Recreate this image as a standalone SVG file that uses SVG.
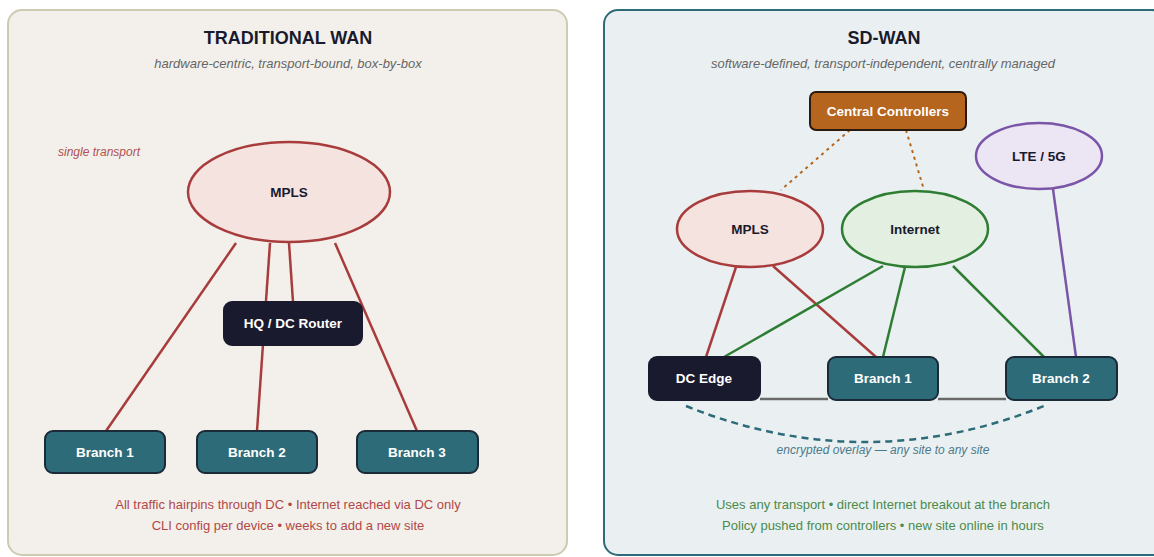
<svg xmlns="http://www.w3.org/2000/svg" width="1154" height="557" viewBox="0 0 1154 557">
<defs>
<style>
text{font-family:"Liberation Sans",Arial,sans-serif}
.title{font-size:18px;font-weight:bold;fill:#1a1a2e;text-anchor:middle}
.sub{font-size:13px;font-style:italic;fill:#666;text-anchor:middle}
.lbl{font-size:13.5px;font-weight:bold;fill:#fff;text-anchor:middle;dominant-baseline:central}
.elbl{font-size:13.5px;font-weight:bold;fill:#1a1a2e;text-anchor:middle;dominant-baseline:central}
.box{fill:#2d6b78;stroke:#1a2a38;stroke-width:2}
.dark{fill:#1a1a2e;stroke:#1a1a2e;stroke-width:2}
.red{stroke:#a83c3c;stroke-width:2.5;fill:none}
.green{stroke:#2e7d32;stroke-width:2.5;fill:none}
.foot{font-size:13px;text-anchor:middle}
</style>
</defs>
<rect x="0" y="0" width="1154" height="557" fill="#ffffff"/>
<!-- Left panel -->
<rect x="8" y="10" width="559" height="545" rx="14" fill="#f3f0eb" stroke="#cfcab2" stroke-width="2"/>
<text class="title" x="288" y="44">TRADITIONAL WAN</text>
<text class="sub" x="288" y="68">hardware-centric, transport-bound, box-by-box</text>
<text x="58" y="156" font-size="12" font-style="italic" fill="#b05050">single transport</text>
<!-- Right panel -->
<rect x="604" y="10" width="562" height="545" rx="14" fill="#eaf0f2" stroke="#2d6b78" stroke-width="2"/>
<text class="title" x="884" y="44">SD-WAN</text>
<text class="sub" x="883" y="68">software-defined, transport-independent, centrally managed</text>

<g id="connectors">
<line class="red" x1="236" y1="243" x2="106" y2="431"/>
<line class="red" x1="270" y1="243" x2="257" y2="431"/>
<line class="red" x1="289" y1="243" x2="293" y2="302"/>
<line class="red" x1="335" y1="243" x2="417" y2="431"/>
<line x1="850" y1="130" x2="781" y2="190" stroke="#b5651d" stroke-width="2" stroke-dasharray="3 4"/>
<line x1="906" y1="130" x2="924" y2="190" stroke="#b5651d" stroke-width="2" stroke-dasharray="3 4"/>
<line class="red" x1="736" y1="267" x2="706" y2="357"/>
<line class="red" x1="773" y1="266" x2="876" y2="357"/>
<line class="green" x1="883" y1="266" x2="724" y2="357"/>
<line class="green" x1="905" y1="267" x2="883" y2="357"/>
<line class="green" x1="953" y1="266" x2="1044" y2="357"/>
<line x1="1053" y1="189" x2="1076" y2="357" stroke="#7a55a8" stroke-width="2.5"/>
<line x1="760" y1="399" x2="828" y2="399" stroke="#6a6a6a" stroke-width="2.5"/>
<line x1="938" y1="399" x2="1006" y2="399" stroke="#6a6a6a" stroke-width="2.5"/>
<path d="M686,406 Q865,478 1044,406" fill="none" stroke="#2d6b78" stroke-width="2.5" stroke-dasharray="7 5"/>
</g>

<g id="mpls-left">
<ellipse cx="289" cy="192" rx="101" ry="50" fill="#f5e3e0" stroke="#a83c3c" stroke-width="2.5"/>
<text class="elbl" x="289" y="192">MPLS</text>
</g>
<g id="hq-router">
<rect class="dark" x="224" y="302" width="138" height="43" rx="8"/>
<text class="lbl" x="293" y="323.5">HQ / DC Router</text>
</g>
<g id="branch1-left">
<rect class="box" x="45" y="431" width="120" height="42" rx="8"/>
<text class="lbl" x="105" y="452">Branch 1</text>
</g>
<g id="branch2-left">
<rect class="box" x="197" y="431" width="120" height="42" rx="8"/>
<text class="lbl" x="257" y="452">Branch 2</text>
</g>
<g id="branch3-left">
<rect class="box" x="357" y="431" width="121" height="42" rx="8"/>
<text class="lbl" x="417" y="452">Branch 3</text>
</g>
<text class="foot" x="288" y="509" fill="#b04848">All traffic hairpins through DC • Internet reached via DC only</text>
<text class="foot" x="288" y="530" fill="#b04848">CLI config per device • weeks to add a new site</text>

<g id="controllers">
<rect x="810" y="92" width="156" height="38" rx="6" fill="#b5651d" stroke="#2a1a10" stroke-width="2"/>
<text class="lbl" x="888" y="111">Central Controllers</text>
</g>
<g id="lte">
<ellipse cx="1039" cy="156" rx="63" ry="33" fill="#ece5f3" stroke="#7a55a8" stroke-width="2.5"/>
<text class="elbl" x="1039" y="156">LTE / 5G</text>
</g>
<g id="mpls-right">
<ellipse cx="750" cy="229" rx="73" ry="38" fill="#f5e3e0" stroke="#a83c3c" stroke-width="2.5"/>
<text class="elbl" x="750" y="229">MPLS</text>
</g>
<g id="internet">
<ellipse cx="915" cy="229" rx="73" ry="38" fill="#e3f0e1" stroke="#2e7d32" stroke-width="2.5"/>
<text class="elbl" x="915" y="229">Internet</text>
</g>
<g id="dc-edge">
<rect class="dark" x="649" y="357" width="111" height="43" rx="8"/>
<text class="lbl" x="704" y="378.5">DC Edge</text>
</g>
<g id="branch1-right">
<rect class="box" x="828" y="357" width="110" height="43" rx="8"/>
<text class="lbl" x="883" y="378.5">Branch 1</text>
</g>
<g id="branch2-right">
<rect class="box" x="1006" y="357" width="111" height="43" rx="8"/>
<text class="lbl" x="1061" y="378.5">Branch 2</text>
</g>
<text x="883" y="454" font-size="12" font-style="italic" fill="#4a7a8a" text-anchor="middle">encrypted overlay — any site to any site</text>
<text class="foot" x="883" y="509" fill="#4a8a4a">Uses any transport • direct Internet breakout at the branch</text>
<text class="foot" x="883" y="530" fill="#4a8a4a">Policy pushed from controllers • new site online in hours</text>
</svg>
